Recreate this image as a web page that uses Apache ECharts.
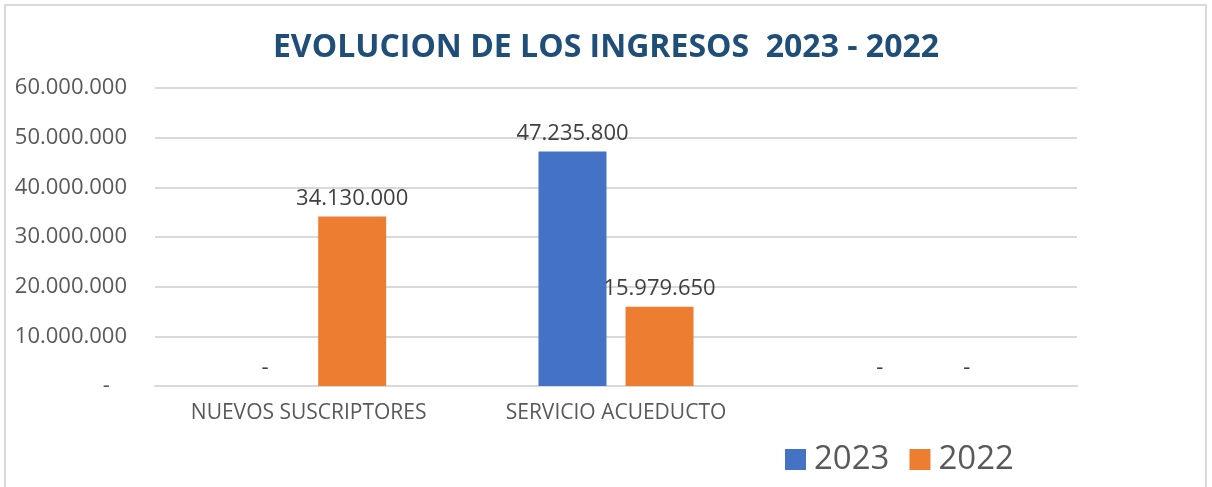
<!DOCTYPE html>
<html>
<head>
<meta charset="utf-8">
<script src="https://cdn.jsdelivr.net/npm/echarts@6/dist/echarts.min.js"></script>
<style>
  html, body { margin: 0; padding: 0; background: #fff; }
  #main { width: 1212px; height: 487px; }
</style>
</head>
<body>
<div id="main"></div>
<script>
var categories = ['NUEVOS SUSCRIPTORES', 'SERVICIO ACUEDUCTO', ''];
var years = ['2023', '2022'];
var ingresos2023 = [0, 47235800, 0];
var ingresos2022 = [34130000, 15979650, 0];

// formato con puntos de miles, el cero se muestra como guion
function fmt(v) {
  if (!v) return '-';
  return String(Math.round(v)).replace(/\B(?=(\d{3})+(?!\d))/g, '.');
}

var chart = echarts.init(document.getElementById('main'));

var labelStyle = {
  show: true,
  position: 'top',
  distance: 7,
  color: '#404040',
  fontFamily: 'Open Sans',
  fontSize: 22,
  formatter: function (p) { return fmt(p.value); }
};

var option = {
  animation: false,
  backgroundColor: '#fff',
  title: {
    text: 'EVOLUCION DE LOS INGRESOS  2023 - 2022',
    left: 'center',
    top: 27,
    textStyle: {
      color: '#1F4E79',
      fontFamily: 'Open Sans',
      fontWeight: 'bold',
      fontSize: 32
    }
  },
  graphic: [{
    type: 'rect',
    shape: { x: 5, y: 5, width: 1201, height: 490 },
    style: { fill: null, stroke: '#d9d9d9', lineWidth: 2 },
    silent: true
  }],
  legend: {
    data: years,
    left: 780,
    top: 438,
    itemWidth: 21,
    itemHeight: 21,
    itemGap: 20,
    icon: 'rect',
    textStyle: { color: '#595959', fontFamily: 'Open Sans', fontSize: 33, padding: [0, 0, 0, 3] }
  },
  grid: { left: 155, right: 135, top: 88, bottom: 101 },
  xAxis: {
    type: 'category',
    data: categories,
    axisLine: { lineStyle: { color: '#d9d9d9', width: 2 } },
    axisTick: { show: false },
    axisLabel: {
      color: '#595959',
      fontFamily: 'Open Sans',
      fontSize: 21,
      margin: 17
    }
  },
  yAxis: {
    type: 'value',
    min: 0,
    max: 60000000,
    interval: 10000000,
    axisLine: { show: false },
    axisTick: { show: false },
    splitLine: { lineStyle: { color: '#d9d9d9', width: 2 } },
    axisLabel: {
      color: '#595959',
      fontFamily: 'Open Sans',
      fontSize: 22,
      margin: 28,
      formatter: function (v) { return v === 0 ? '-   ' : fmt(v); }
    }
  },
  series: [{
    name: '2023',
    type: 'bar',
    data: ingresos2023,
    barWidth: 68,
    barGap: '28%',
    itemStyle: { color: '#4472C4' },
    label: labelStyle
  }, {
    name: '2022',
    type: 'bar',
    data: ingresos2022,
    barWidth: 68,
    itemStyle: { color: '#ED7D31' },
    label: labelStyle
  }]
};

chart.setOption(option);
</script>
</body>
</html>
